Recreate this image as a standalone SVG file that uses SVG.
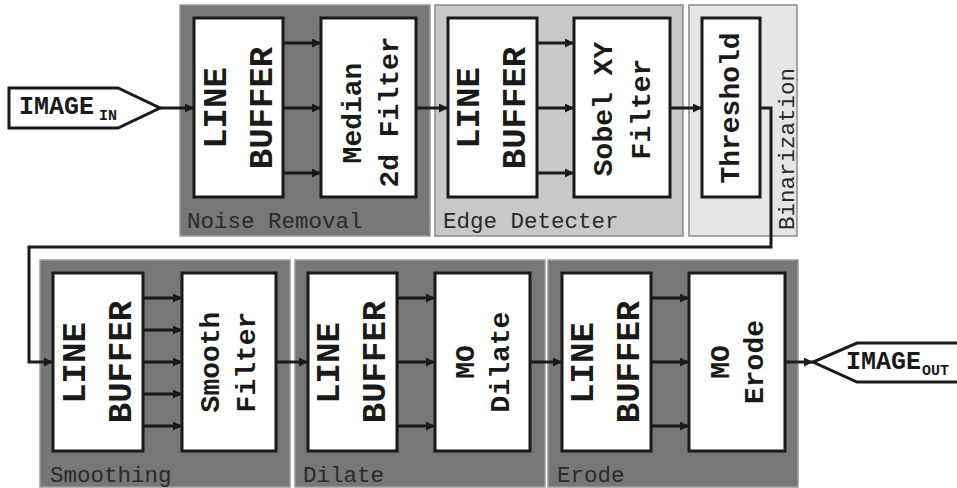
<svg xmlns="http://www.w3.org/2000/svg" width="957" height="488" viewBox="0 0 957 488">
<defs>
<marker id="ah" viewBox="0 0 10 10" refX="10" refY="5" markerWidth="3" markerHeight="3" orient="auto" markerUnits="strokeWidth">
<path d="M0,0 L10,5 L0,10 z" fill="#1a1a1a"/>
</marker>
<style>
.pd{fill:#777;stroke:#9a9a9a;stroke-width:1.5}
.pm{fill:#c8c8c8;stroke:#8a8a8a;stroke-width:1.5}
.pl{fill:#e6e6e6;stroke:#8a8a8a;stroke-width:1.5}
.box{fill:#fff;stroke:#1a1a1a;stroke-width:3}
.big{font-family:"Liberation Mono","DejaVu Sans Mono",monospace;font-weight:bold;font-size:34px;fill:#1a1a1a;text-anchor:middle;dominant-baseline:central}
.mid{font-family:"Liberation Mono","DejaVu Sans Mono",monospace;font-weight:bold;font-size:28px;fill:#1a1a1a;text-anchor:middle;dominant-baseline:central}
.lab{font-family:"Liberation Mono","DejaVu Sans Mono",monospace;font-size:22.5px;fill:#2a2a2a}
.io{font-family:"Liberation Mono","DejaVu Sans Mono",monospace;font-weight:bold;font-size:25px;fill:#1a1a1a}
.sub{font-family:"Liberation Mono","DejaVu Sans Mono",monospace;font-weight:bold;font-size:15px;fill:#1a1a1a}
.c{fill:none;stroke:#1a1a1a;stroke-width:3;marker-end:url(#ah)}
.cn{fill:none;stroke:#1a1a1a;stroke-width:3}
</style>
</defs>

<g id="panel-noise">
<rect class="pd" x="180" y="5" width="250" height="231"/>
<text class="lab" x="187" y="228">Noise Removal</text>
</g>
<g id="panel-edge">
<rect class="pm" x="435" y="5" width="248" height="231"/>
<text class="lab" x="443" y="228">Edge Detecter</text>
</g>
<g id="panel-bin">
<rect class="pl" x="689" y="5" width="108" height="231"/>
<text class="lab" transform="translate(794,230) rotate(-90)">Binarization</text>
</g>
<g id="panel-smooth">
<rect class="pd" x="40" y="260" width="250" height="227"/>
<text class="lab" x="50" y="482">Smoothing</text>
</g>
<g id="panel-dilate">
<rect class="pd" x="295" y="260" width="250" height="227"/>
<text class="lab" x="303" y="482">Dilate</text>
</g>
<g id="panel-erode">
<rect class="pd" x="548" y="260" width="250" height="227"/>
<text class="lab" x="557" y="482">Erode</text>
</g>

<g id="image-in">
<path d="M9,88 L118,88 L160,108 L118,128 L9,128 z" fill="#fff" stroke="#1a1a1a" stroke-width="3"/>
<text class="io" x="19" y="114">IMAGE</text>
<text class="sub" x="99" y="120">IN</text>
</g>
<g id="image-out">
<path d="M960,343 L857,343 L813,362 L857,382 L960,382" fill="#fff" stroke="#1a1a1a" stroke-width="3"/>
<text class="io" x="846" y="369">IMAGE</text>
<text class="sub" x="922" y="375">OUT</text>
</g>

<g id="lb1">
<rect class="box" x="194" y="18" width="89" height="179"/>
<text class="big" transform="translate(217,108) rotate(-90)">LINE</text>
<text class="big" transform="translate(263,108) rotate(-90)">BUFFER</text>
</g>
<g id="median">
<rect class="box" x="321" y="18" width="95" height="179"/>
<text class="mid" transform="translate(353,113) rotate(-90)">Median</text>
<text class="mid" transform="translate(390,112) rotate(-90)">2d Filter</text>
</g>
<g id="lb2">
<rect class="box" x="448" y="18" width="89" height="179"/>
<text class="big" transform="translate(470,108) rotate(-90)">LINE</text>
<text class="big" transform="translate(516,108) rotate(-90)">BUFFER</text>
</g>
<g id="sobel">
<rect class="box" x="574" y="18" width="96" height="179"/>
<text class="mid" transform="translate(604,109) rotate(-90)">Sobel XY</text>
<text class="mid" transform="translate(642,109) rotate(-90)">Filter</text>
</g>
<g id="threshold">
<rect class="box" x="702" y="18" width="58" height="179"/>
<text class="mid" transform="translate(731,108) rotate(-90)">Threshold</text>
</g>

<g id="lb3">
<rect class="box" x="53" y="273" width="90" height="178"/>
<text class="big" transform="translate(76,363) rotate(-90)">LINE</text>
<text class="big" transform="translate(122,362) rotate(-90)">BUFFER</text>
</g>
<g id="smooth">
<rect class="box" x="182" y="273" width="94" height="178"/>
<text class="mid" transform="translate(211,362) rotate(-90)">Smooth</text>
<text class="mid" transform="translate(247,362) rotate(-90)">Filter</text>
</g>
<g id="lb4">
<rect class="box" x="308" y="273" width="89" height="178"/>
<text class="big" transform="translate(330,363) rotate(-90)">LINE</text>
<text class="big" transform="translate(376,362) rotate(-90)">BUFFER</text>
</g>
<g id="dilate">
<rect class="box" x="435" y="273" width="95" height="178"/>
<text class="mid" transform="translate(466,362) rotate(-90)">MO</text>
<text class="mid" transform="translate(501,362) rotate(-90)">Dilate</text>
</g>
<g id="lb5">
<rect class="box" x="562" y="273" width="89" height="178"/>
<text class="big" transform="translate(584,363) rotate(-90)">LINE</text>
<text class="big" transform="translate(630,362) rotate(-90)">BUFFER</text>
</g>
<g id="erode">
<rect class="box" x="689" y="273" width="96" height="178"/>
<text class="mid" transform="translate(721,362) rotate(-90)">MO</text>
<text class="mid" transform="translate(755,362) rotate(-90)">Erode</text>
</g>

<g id="connectors">
<path class="c" d="M160,108 H194"/>
<path class="c" d="M283,43 H321"/>
<path class="c" d="M283,108 H321"/>
<path class="c" d="M283,173 H321"/>
<path class="c" d="M416,108 H448"/>
<path class="c" d="M537,43 H574"/>
<path class="c" d="M537,108 H574"/>
<path class="c" d="M537,173 H574"/>
<path class="c" d="M670,108 H702"/>
<path class="c" d="M760,108 H771 V247 H29 V362 H53"/>
<path class="c" d="M143,298 H182"/>
<path class="c" d="M143,330 H182"/>
<path class="c" d="M143,362 H182"/>
<path class="c" d="M143,394 H182"/>
<path class="c" d="M143,426 H182"/>
<path class="c" d="M276,362 H308"/>
<path class="c" d="M397,298 H435"/>
<path class="c" d="M397,362 H435"/>
<path class="c" d="M397,426 H435"/>
<path class="c" d="M530,362 H562"/>
<path class="c" d="M651,298 H689"/>
<path class="c" d="M651,362 H689"/>
<path class="c" d="M651,426 H689"/>
<path class="c" d="M785,362 H813"/>
</g>
</svg>
